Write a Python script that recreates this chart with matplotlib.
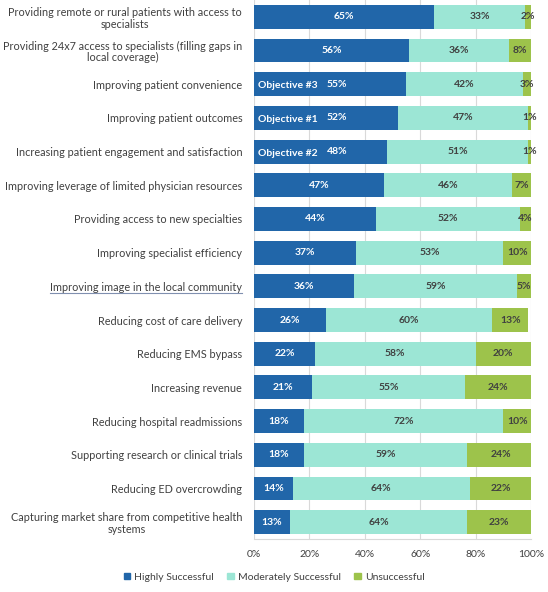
import numpy as np
import matplotlib.pyplot as plt
from matplotlib.lines import Line2D

# datos
categorias = [
    "Providing remote or rural patients with access to\nspecialists",
    "Providing 24x7 access to specialists (filling gaps in\nlocal coverage)",
    "Improving patient convenience",
    "Improving patient outcomes",
    "Increasing patient engagement and satisfaction",
    "Improving leverage of limited physician resources",
    "Providing access to new specialties",
    "Improving specialist efficiency",
    "Improving image in the local community",
    "Reducing cost of care delivery",
    "Reducing EMS bypass",
    "Increasing revenue",
    "Reducing hospital readmissions",
    "Supporting research or clinical trials",
    "Reducing ED overcrowding",
    "Capturing market share from competitive health\nsystems",
]
alto = [65, 56, 55, 52, 48, 47, 44, 37, 36, 26, 22, 21, 18, 18, 14, 13]
moderado = [33, 36, 42, 47, 51, 46, 52, 53, 59, 60, 58, 55, 72, 59, 64, 64]
fallido = [2, 8, 3, 1, 1, 7, 4, 10, 5, 13, 20, 24, 10, 24, 22, 23]
objetivos = {2: "Objective #3", 3: "Objective #1", 4: "Objective #2"}
series = ["Highly Successful", "Moderately Successful", "Unsuccessful"]
ticks = [0, 20, 40, 60, 80, 100]

c_alto = "#2166a9"
c_mod = "#9ce6d5"
c_fal = "#9dc34b"
gris = "#404040"

plt.rcParams['font.family'] = ['Lato', 'DejaVu Sans']

fig = plt.figure(figsize=(5.48, 5.92), dpi=100)
ax = fig.add_axes([0.4635, 0.0895, 0.5055, 0.9105])

y = np.arange(len(categorias))
a = np.array(alto) / 100
m = np.array(moderado) / 100
f = np.array(fallido) / 100

ax.barh(y, a, height=0.71, color=c_alto, zorder=3)
ax.barh(y, m, left=a, height=0.71, color=c_mod, zorder=3)
ax.barh(y, f, left=a + m, height=0.71, color=c_fal, zorder=3)

for i in y:
    if i in objetivos:
        ax.text(0.015, i + 0.05, objetivos[i], ha='left', va='center', color='white',
                fontsize=7.5, fontweight='bold', zorder=4)
        xa = 0.30
    else:
        xa = a[i] / 2
    ax.text(xa, i, f"{alto[i]}%", ha='center', va='center', color='white',
            fontsize=7.5, fontweight='bold', zorder=4)
    ax.text(a[i] + m[i] / 2, i, f"{moderado[i]}%", ha='center', va='center', color=gris,
            fontsize=7.5, fontweight='bold', zorder=4)
    ax.text(a[i] + m[i] + f[i] / 2, i, f"{fallido[i]}%", ha='center', va='center', color=gris,
            fontsize=7.5, fontweight='bold', zorder=4)

ax.set_ylim(len(categorias) - 0.5, -0.5)
ax.set_xlim(0, 1)
ax.set_yticks(y)
ax.set_yticklabels(categorias, fontsize=7.8, color=gris, ha='right',
                   multialignment='center', linespacing=1.1)
ax.set_xticks([t / 100 for t in ticks])
ax.set_xticklabels([f"{t}%" for t in ticks], fontsize=7.5, color=gris)
ax.tick_params(axis='x', length=0, pad=8)
ax.tick_params(axis='y', length=0, pad=8.5)
ax.grid(axis='x', color='#d9d9d9', linewidth=0.8, zorder=0)
for s in ['top', 'right', 'left']:
    ax.spines[s].set_visible(False)
ax.spines['bottom'].set_color('#d9d9d9')

# subrayado de la etiqueta
fig.add_artist(Line2D([50 / 548, 242 / 548], [1 - 293 / 592, 1 - 293 / 592],
                      color='#8090b0', linewidth=0.8))

handles = [plt.Rectangle((0, 0), 1, 1, color=c) for c in [c_alto, c_mod, c_fal]]
fig.legend(handles, series, loc='center', bbox_to_anchor=(0.5, 1 - 577 / 592), ncol=3,
           frameon=False, fontsize=7.5, handlelength=0.6, handleheight=0.6,
           handletextpad=0.4, columnspacing=1.3, labelcolor=gris)

fig.savefig("out.png", dpi=100)
